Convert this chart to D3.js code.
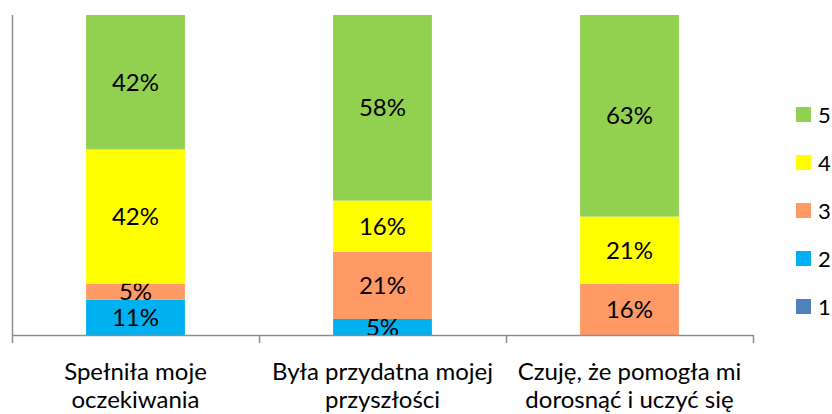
<!DOCTYPE html>
<html>
<head>
<meta charset="utf-8">
<script src="https://cdn.jsdelivr.net/npm/d3@7"></script>
<style>
  body { margin: 0; background: #fff; }
  text { font-family: Lato, "Open Sans", sans-serif; fill: #000; }
</style>
</head>
<body>
<div id="chart"></div>
<script>
// categories (two text lines each) and series values, in percent
var categories = ["Spełniła moje oczekiwania", "Była przydatna mojej przyszłości", "Czuję, że pomogła mi dorosnąć i uczyć się"];
var catLines = [["Spełniła moje", "oczekiwania"], ["Była przydatna mojej", "przyszłości"], ["Czuję, że pomogła mi", "dorosnąć i uczyć się"]];
var seriesNames = ["1", "2", "3", "4", "5"];
var s1 = [0, 0, 0];
var s2 = [11, 5, 0];
var s3 = [5, 21, 16];
var s4 = [42, 16, 21];
var s5 = [42, 58, 63];
var colors = ["#4F81BD", "#00B0F0", "#FF9966", "#FFFF00", "#92D050"];

var w = 832, h = 414;
var plotLeft = 12, plotRight = 753, plotTop = 15, plotBottom = 335;

var svg = d3.select("#chart").append("svg")
  .attr("width", w)
  .attr("height", h);

// build rows for d3.stack
var table = categories.map(function(c, i) {
  return { cat: c, "1": s1[i], "2": s2[i], "3": s3[i], "4": s4[i], "5": s5[i] };
});
var stacked = d3.stack().keys(seriesNames)(table);

var x = d3.scaleBand()
  .domain(categories)
  .range([plotLeft, plotRight])
  .paddingInner(0.6)
  .paddingOuter(0.3);
var y = d3.scaleLinear().domain([0, 100]).range([plotBottom, plotTop]);

var layers = svg.append("g").selectAll("g")
  .data(stacked).enter()
  .append("g")
  .attr("fill", function(d, i) { return colors[i]; });

layers.selectAll("rect")
  .data(function(d) { return d; })
  .enter().append("rect")
  .attr("x", function(d) { return x(d.data.cat); })
  .attr("width", x.bandwidth())
  .attr("y", function(d) { return y(d[1]); })
  .attr("height", function(d) { return y(d[0]) - y(d[1]); });

// data labels
layers.selectAll("text")
  .data(function(d) { return d.filter(function(p) { return p[1] - p[0] > 0; }); })
  .enter().append("text")
  .attr("x", function(d) { return x(d.data.cat) + x.bandwidth() / 2; })
  .attr("y", function(d) { return (y(d[0]) + y(d[1])) / 2; })
  .attr("dy", "0.36em")
  .attr("text-anchor", "middle")
  .style("font-size", "24px")
  .text(function(d) { return Math.round(d[1] - d[0]) + "%"; });

// y axis (line only)
svg.append("line")
  .attr("x1", plotLeft + 0.5).attr("x2", plotLeft + 0.5)
  .attr("y1", plotTop).attr("y2", plotBottom)
  .attr("stroke", "#8c8c8c").attr("stroke-width", 1.5);

// x axis with ticks between categories
var xa = svg.append("g");
xa.append("line")
  .attr("x1", plotLeft).attr("x2", plotRight)
  .attr("y1", plotBottom + 0.5).attr("y2", plotBottom + 0.5)
  .attr("stroke", "#8c8c8c").attr("stroke-width", 1.5);
var tickPos = [plotLeft].concat(categories.map(function(c, i) { return plotLeft + x.step() * (i + 1); }));
xa.selectAll(".tk")
  .data(tickPos).enter()
  .append("line")
  .attr("x1", function(d) { return d + 0.5; }).attr("x2", function(d) { return d + 0.5; })
  .attr("y1", plotBottom).attr("y2", plotBottom + 8)
  .attr("stroke", "#8c8c8c").attr("stroke-width", 1.5);

// category labels
var cl = svg.append("g").selectAll("text")
  .data(categories).enter()
  .append("text")
  .attr("text-anchor", "middle")
  .style("font-size", "24px")
  .attr("x", function(d) { return x(d) + x.bandwidth() / 2; })
  .attr("y", 380);
cl.selectAll("tspan")
  .data(function(d, i) { return catLines[i]; })
  .enter().append("tspan")
  .attr("x", function() { return d3.select(this.parentNode).attr("x"); })
  .attr("dy", function(d, i) { return i === 0 ? 0 : 28; })
  .text(function(d) { return d; });

// legend, top to bottom 5..1
var legendNames = seriesNames.slice().reverse();
var legend = svg.append("g").selectAll("g")
  .data(legendNames).enter()
  .append("g")
  .attr("transform", function(d, i) { return "translate(796," + (115 + i * 48) + ")"; });
legend.append("rect")
  .attr("x", 0).attr("y", -8)
  .attr("width", 15).attr("height", 15)
  .attr("fill", function(d) { return colors[seriesNames.indexOf(d)]; });
legend.append("text")
  .attr("x", 22).attr("dy", "0.36em")
  .style("font-size", "22px")
  .text(function(d) { return d; });
</script>
</body>
</html>
